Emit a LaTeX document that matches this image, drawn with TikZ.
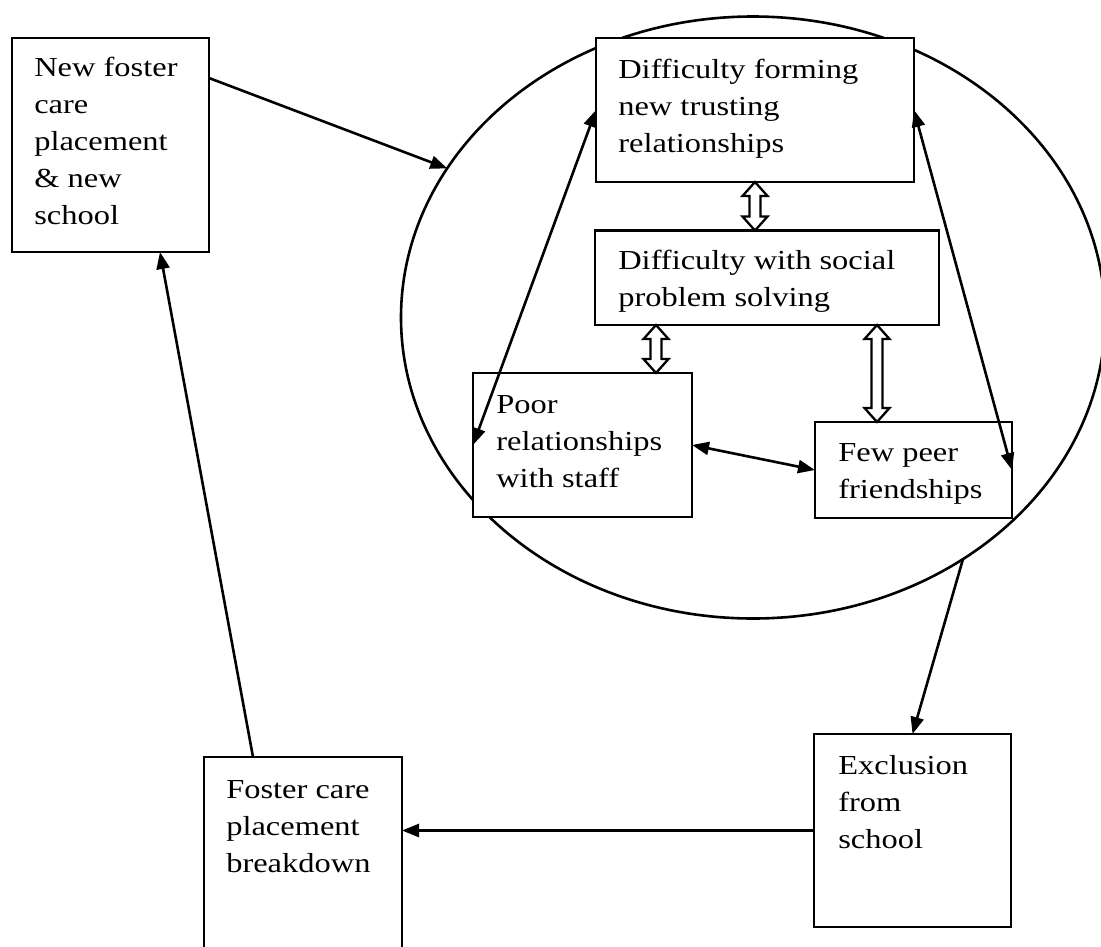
\documentclass[tikz,border=0pt]{standalone}
\usepackage{fontspec}
\setmainfont[FakeStretch=1.18]{Liberation Serif}
\usetikzlibrary{arrows.meta,calc,shapes.geometric}
\newcommand{\hollowarrow}[2]{\draw[hol] let \p1=#1, \p2=#2 in
  (\x1,\y1) -- (\x1+12.5pt,\y1-14pt) -- (\x1+5.5pt,\y1-14pt) -- (\x1+5.5pt,\y2+14pt) -- (\x1+12.5pt,\y2+14pt)
  -- (\x1,\y2) -- (\x1-12.5pt,\y2+14pt) -- (\x1-5.5pt,\y2+14pt) -- (\x1-5.5pt,\y1-14pt) -- (\x1-12.5pt,\y1-14pt) -- cycle;}
\begin{document}
\begin{tikzpicture}[x=1pt,y=-1pt,line width=2.6pt,
  boxst/.style={draw,fill=white,rectangle,inner sep=0pt,outer sep=0pt,anchor=north west},
  txt/.style={anchor=base west,align=left,inner sep=0pt,font=\fontsize{27.5}{37}\selectfont},
  arr/.style={-{Triangle[length=17pt,width=13pt]}},
  darr/.style={{Triangle[length=17pt,width=13pt]}-{Triangle[length=17pt,width=13pt]}},
  hol/.style={line width=2.3pt,fill=white,line join=miter}]
\clip (0,0) rectangle (1101,946);
% ellipse
\node[draw,ellipse,minimum width=704pt,minimum height=602pt,inner sep=0pt,outer sep=0pt] (circ) at (753,317.5) {};
% boxes
\node[boxst,minimum width=197pt,minimum height=214pt] (nf) at (12,38) {};
\node[boxst,minimum width=318pt,minimum height=144pt] (top) at (596,38) {};
\node[boxst,minimum width=344pt,minimum height=94.5pt] (soc) at (595,230.5) {};
\node[boxst,minimum width=219pt,minimum height=144pt] (poor) at (473,373) {};
\node[boxst,minimum width=197pt,minimum height=96pt] (few) at (815,422) {};
\node[boxst,minimum width=197pt,minimum height=193pt] (excl) at (814,734) {};
\node[boxst,minimum width=198pt,minimum height=220pt] (brk) at (204,757) {};
% texts (anchored at the baseline of the last line)
\node[txt] (nft) at (33,224) {New foster\\care\\placement\\\& new\\school};
\node[txt] (topt) at (617,152) {Difficulty forming\\new trusting\\relationships};
\node[txt] (soct) at (617,306) {Difficulty with social\\problem solving};
\node[txt] (poort) at (495,487) {Poor\\relationships\\with staff};
\node[txt] (fewt) at (837,498) {Few peer\\friendships};
\node[txt] (exclt) at (837,848) {Exclusion\\from\\school};
\node[txt] (brkt) at (225,872) {Foster care\\placement\\breakdown};
% hollow double arrows
\hollowarrow{(top.south)}{(soc.north -| top.south)}
\coordinate (h2) at ($(soc.south west)+(61,0)$);
\hollowarrow{(h2)}{(poor.north -| h2)}
\coordinate (h3) at ($(soc.south west)+(282,0)$);
\hollowarrow{(h3)}{(few.north -| h3)}
% connectors
\draw[arr] ($(nf.north east)+(0,40)$) -- (circ.154.9);
\draw[arr] (circ.311.3) -- (excl.north);
\draw[arr] ($(brk.north west)+(49,0)$) -- ($(nf.south west)+(148,0)$);
\draw[arr] (excl.west) -- (excl.west -| brk.east);
\draw[darr] (top.west) -- (poor.west);
\draw[darr] (top.east) -- (few.east);
\draw[darr] (poor.east) -- (few.west);
\end{tikzpicture}
\end{document}
